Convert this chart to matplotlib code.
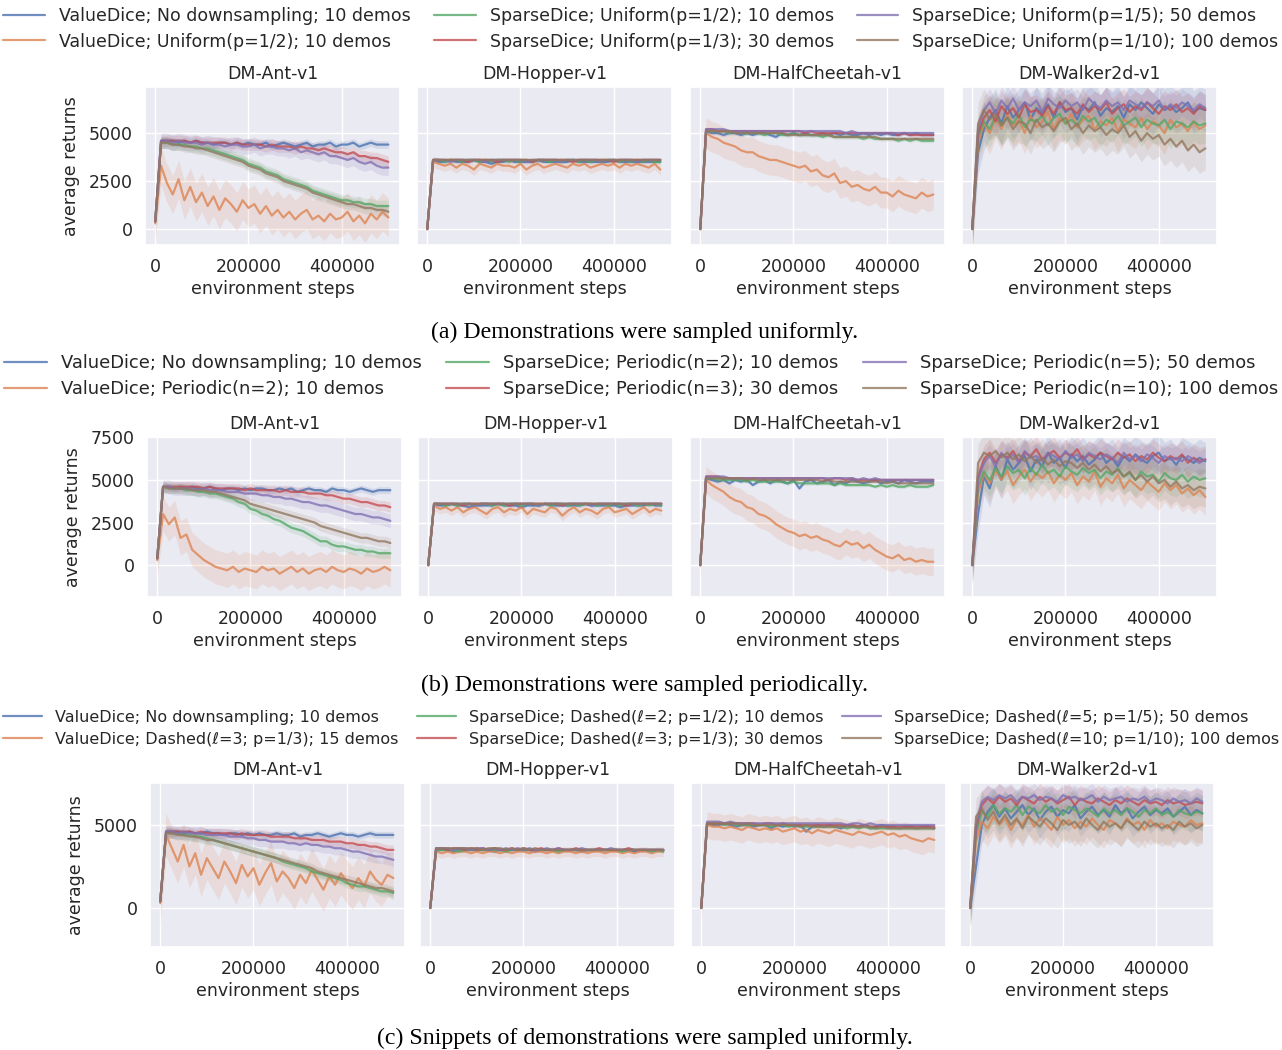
import matplotlib
matplotlib.use("Agg")
import matplotlib.pyplot as plt
import numpy as np
import seaborn as sns

# x grid of the logged evaluations (environment steps)
steps = np.arange(41) * 12500

# returns in units of 100, order: ValueDice full, ValueDice down, Sparse 2, 3, 5, 10
ant_a = [
    [4,46,46,46,45,46,45,46,45,45,44,45,45,44,45,44,45,44,44,45,43,44,45,44,43,44,45,43,44,44,45,43,44,44,45,43,44,45,44,44,44],
    [3,33,24,18,26,15,22,14,19,12,17,10,16,13,9,15,11,13,8,12,7,10,6,9,5,8,10,5,7,4,8,5,6,9,4,7,3,8,5,9,6],
    [4,45,45,44,44,44,43,43,42,42,41,40,39,38,37,36,34,33,32,30,29,28,26,25,24,23,22,20,19,18,17,16,15,15,14,14,13,13,12,12,12],
    [4,46,46,46,46,46,45,46,45,45,45,45,45,44,45,44,44,44,44,43,44,43,43,43,42,43,42,42,41,42,41,40,40,39,40,38,38,37,37,36,35],
    [4,46,46,45,46,45,45,45,44,45,44,44,43,44,44,43,43,44,42,43,43,42,42,41,42,40,41,40,39,40,38,38,37,36,37,35,34,35,33,32,32],
    [4,45,45,44,44,43,43,42,42,41,40,39,38,37,36,35,33,32,31,29,28,27,25,24,23,22,21,19,18,17,16,15,14,13,13,12,11,11,10,10,9],
]
hopper_a = [
    [0,36,35,35,36,35,35,35,36,35,35,34,35,35,36,35,35,35,35,36,35,35,35,35,35,36,35,35,35,35,35,35,36,35,35,35,35,35,35,35,35],
    [0,35,34,33,34,32,34,33,31,34,33,32,34,33,33,32,34,31,33,34,32,33,34,33,32,34,33,34,32,33,34,33,34,32,34,33,34,33,32,34,31],
    [0,36,36,35,36,36,35,36,36,35,36,35,36,36,35,36,35,36,35,36,36,35,36,35,36,36,35,36,35,36,35,36,36,35,36,35,36,35,36,35,35],
    [0,36,36,36,36,36,36,35,36,36,36,36,35,36,36,36,36,36,35,36,36,36,36,36,36,35,36,36,36,36,36,36,35,36,36,36,36,36,36,36,36],
    [0,36,36,36,35,36,36,36,36,36,35,36,36,36,36,36,36,35,36,36,36,36,36,35,36,36,36,36,36,36,35,36,36,36,36,36,35,36,36,36,36],
    [0,36,36,36,36,36,36,36,36,36,36,36,36,36,36,36,36,36,36,36,36,36,36,36,36,36,36,36,36,36,36,36,36,36,36,36,36,36,36,36,36],
]
cheetah_a = [
    [0,51,50,50,49,50,50,49,50,49,50,50,49,48,50,49,50,49,50,49,49,50,49,50,49,50,49,49,50,49,50,49,50,49,49,50,49,50,49,49,49],
    [0,50,48,47,45,44,43,41,40,40,38,37,36,36,35,34,33,32,33,30,31,28,27,29,24,25,22,23,21,20,22,19,19,17,20,18,17,16,19,17,18],
    [0,51,51,51,51,50,51,50,50,50,50,49,50,50,49,49,50,49,49,49,49,48,49,48,48,48,48,48,47,48,47,47,47,47,46,47,46,47,46,46,46],
    [0,52,52,51,51,51,51,51,51,51,51,51,51,51,51,51,51,51,50,51,50,50,50,50,50,50,50,50,50,50,50,50,50,50,49,50,49,49,49,49,49],
    [0,52,52,52,52,51,51,51,51,51,51,51,51,51,51,51,51,51,51,51,51,51,51,51,51,50,51,50,50,50,50,50,50,50,50,50,50,50,50,50,50],
    [0,51,51,51,51,51,50,50,50,50,50,50,50,50,50,49,49,49,49,49,49,49,49,48,48,48,48,48,48,48,48,47,47,47,47,47,47,47,47,47,47],
]
walker_a = [
    [0,40,52,58,62,55,64,58,62,66,57,63,60,65,58,66,61,63,57,64,62,66,59,63,61,64,58,65,62,66,63,60,65,62,64,61,63,66,61,63,62],
    [0,45,55,50,58,52,60,54,57,50,59,53,56,61,52,58,55,60,53,57,59,52,56,54,58,51,57,55,53,58,52,56,54,50,57,53,55,51,56,52,54],
    [0,48,56,52,59,54,58,55,60,53,57,56,59,54,58,60,55,57,54,59,56,58,53,57,55,59,54,56,58,53,57,55,54,57,52,56,55,53,56,54,55],
    [0,50,58,62,56,64,60,63,58,65,61,62,59,64,60,66,62,63,60,65,61,64,62,66,60,63,65,61,64,62,66,63,60,64,62,65,61,63,60,64,62],
    [0,52,62,66,60,67,63,68,62,66,64,67,61,68,65,63,67,64,66,62,68,65,63,67,64,66,62,67,65,63,66,64,67,62,65,63,66,64,62,65,63],
    [0,55,62,57,60,54,58,52,56,55,50,57,53,55,51,56,58,52,55,50,54,51,53,49,52,50,54,48,51,46,50,47,49,44,47,43,46,41,44,40,42],
]

ant_b = [
    [4,46,46,45,46,45,46,45,45,46,45,44,45,45,44,45,44,45,45,44,44,45,44,45,43,44,45,44,44,43,45,44,44,43,44,45,44,43,44,44,44],
    [3,30,24,28,16,18,9,6,3,1,-1,-2,-3,-1,-4,-2,-3,-4,-1,-3,-2,-5,-3,-1,-4,-2,-5,-3,-2,-4,-1,-3,-4,-2,-3,-5,-2,-4,-3,-1,-3],
    [4,46,45,45,45,44,44,43,43,42,42,41,40,39,37,36,33,32,30,29,27,26,24,22,21,20,18,16,14,14,12,11,11,10,9,9,8,8,7,7,7],
    [4,46,46,46,46,46,46,46,45,46,45,45,45,45,45,44,45,44,44,44,44,43,44,43,43,43,42,42,42,41,41,40,39,39,38,37,37,36,35,35,34],
    [4,46,46,45,45,45,45,44,45,44,44,44,43,43,43,42,42,42,41,41,40,40,39,39,38,37,37,36,35,35,34,33,32,31,30,30,29,28,28,27,26],
    [4,46,45,45,45,45,44,44,44,43,43,42,41,40,39,38,36,35,34,33,32,31,30,29,28,27,26,25,23,22,21,20,19,18,17,16,16,15,14,14,13],
]
hopper_b = [
    [0,36,35,35,36,35,35,34,35,35,35,35,36,35,35,35,34,35,35,35,36,35,35,35,35,35,35,36,35,35,35,35,35,34,35,35,35,35,36,35,35],
    [0,35,33,34,32,34,31,33,34,32,30,33,34,31,33,32,34,30,33,32,31,34,33,29,32,34,31,33,32,30,33,34,31,32,33,30,32,34,31,33,32],
    [0,36,36,35,36,35,36,36,35,36,36,35,36,35,36,36,35,36,36,35,36,35,36,36,35,36,35,36,36,35,36,35,36,35,36,36,35,36,35,36,35],
    [0,36,36,36,36,36,35,36,36,36,36,36,36,36,35,36,36,36,36,36,36,36,36,35,36,36,36,36,36,36,36,36,36,36,35,36,36,36,36,36,36],
    [0,36,36,36,36,36,36,36,35,36,36,36,36,36,36,36,36,36,36,35,36,36,36,36,36,36,36,36,35,36,36,36,36,36,36,36,36,36,36,36,36],
    [0,36,36,36,36,36,36,36,36,36,36,36,36,36,36,36,36,36,36,36,36,36,36,36,36,36,36,36,36,36,36,36,36,36,36,36,36,36,36,36,36],
]
cheetah_b = [
    [0,51,50,49,50,48,50,49,50,47,49,50,48,50,49,48,50,45,49,50,48,49,50,47,49,48,50,49,48,49,50,48,49,49,48,50,49,48,49,49,49],
    [0,50,47,45,43,40,38,37,34,33,30,29,27,24,22,20,19,17,18,16,17,15,14,12,11,14,12,13,10,12,9,7,5,4,6,3,4,2,3,2,2],
    [0,51,51,50,50,50,50,50,49,50,49,49,49,49,49,48,49,48,48,48,48,48,48,47,48,47,47,47,47,47,46,47,46,47,46,46,47,46,46,46,47],
    [0,52,52,52,51,51,51,51,51,51,51,51,51,51,51,51,51,51,51,51,51,51,50,51,51,50,51,50,50,50,50,50,50,50,50,50,50,50,50,50,50],
    [0,52,52,52,52,51,51,51,51,51,51,51,51,51,51,51,51,51,51,51,51,51,51,51,51,51,51,50,51,50,51,50,50,50,50,50,50,50,50,50,50],
    [0,51,51,51,51,51,51,51,50,51,50,50,50,50,50,50,50,50,50,50,50,49,50,49,49,49,49,49,49,49,49,49,48,49,48,48,48,48,48,48,48],
]
walker_b = [
    [0,30,52,45,58,50,62,56,60,64,55,62,58,66,60,63,57,65,61,64,59,62,66,60,63,58,64,61,65,62,60,64,66,61,63,59,64,62,60,63,61],
    [0,42,54,48,56,50,55,47,52,56,49,54,51,55,48,53,50,54,47,52,49,55,46,51,48,53,45,50,47,44,49,46,43,48,44,47,42,45,41,44,40],
    [0,46,55,50,57,52,58,54,56,51,57,53,59,54,56,52,58,55,53,57,54,56,51,55,53,57,52,54,50,55,52,53,49,54,51,50,53,49,52,50,51],
    [0,52,62,66,60,65,63,67,61,66,64,68,62,65,67,63,66,64,68,62,65,63,66,64,62,66,63,65,61,64,62,66,63,61,64,62,65,60,63,61,62],
    [0,50,60,64,58,66,62,65,60,67,63,64,61,66,64,62,67,63,65,61,66,64,62,65,63,60,66,62,64,61,65,63,60,64,62,63,61,64,62,60,62],
    [0,60,66,64,67,63,66,62,65,61,64,60,63,59,62,58,61,60,57,60,56,59,55,58,54,56,52,55,50,53,49,52,48,50,46,49,45,47,44,46,45],
]

ant_c = [
    [4,46,46,46,45,46,45,45,46,45,45,44,45,45,44,45,44,45,44,44,45,44,44,45,43,44,44,45,44,43,44,45,44,44,43,44,45,44,44,44,44],
    [3,44,36,28,38,25,33,20,30,24,18,28,22,15,26,19,24,14,21,27,16,22,18,12,20,15,23,17,11,19,14,21,16,12,18,13,22,17,14,20,18],
    [4,46,45,45,44,44,43,43,42,41,40,39,38,37,36,35,34,33,32,31,30,28,27,26,25,24,22,21,20,19,18,17,15,14,13,13,12,11,10,10,9],
    [4,46,46,46,46,46,45,46,45,45,45,45,45,44,45,44,44,44,44,43,43,43,43,42,42,42,41,41,41,40,40,40,39,39,38,38,37,37,36,35,35],
    [4,46,46,45,46,45,45,45,44,44,44,44,43,43,43,42,42,41,41,40,40,40,39,39,38,39,38,38,37,37,36,36,35,34,34,33,32,31,31,30,29],
    [4,45,45,44,44,43,43,42,41,41,40,39,38,37,36,35,34,33,32,31,30,29,28,27,26,25,24,22,21,20,19,18,17,16,15,14,13,12,12,11,10],
]
hopper_c = [
    [0,35,35,35,34,35,35,35,35,35,35,34,35,35,35,35,35,35,34,35,35,35,35,35,35,35,34,35,35,35,35,35,35,35,35,34,35,35,35,35,35],
    [0,34,33,34,33,34,34,33,34,33,34,34,33,34,33,34,34,33,34,34,33,34,33,34,34,33,34,33,34,34,33,34,34,33,34,33,34,34,33,34,34],
    [0,35,35,35,35,34,35,35,35,35,35,35,35,34,35,35,35,35,35,35,35,35,34,35,35,35,35,35,35,35,35,35,35,34,35,35,35,35,34,35,34],
    [0,36,36,35,36,36,35,36,35,36,35,36,35,35,36,35,36,35,35,36,35,35,36,35,35,36,35,35,35,36,35,35,35,35,36,35,35,35,35,35,35],
    [0,36,36,36,35,36,36,35,36,36,35,36,35,36,35,36,35,36,35,35,36,35,36,35,35,35,36,35,35,35,35,36,35,35,35,35,35,35,35,35,35],
    [0,36,36,36,36,36,36,36,36,35,36,36,36,35,36,35,36,35,36,35,35,35,35,35,35,35,35,35,35,35,35,35,35,35,35,35,35,35,35,35,35],
]
cheetah_c = [
    [0,51,50,50,51,50,49,50,50,49,50,50,48,50,49,50,49,50,46,49,50,49,50,49,48,50,49,49,50,48,49,50,49,49,48,49,49,48,49,49,48],
    [0,50,49,49,48,49,48,47,49,48,47,48,47,48,46,47,48,46,47,45,47,46,45,47,46,45,44,46,45,44,45,46,44,45,43,44,42,41,40,42,41],
    [0,51,51,51,50,51,50,50,50,50,50,50,49,50,50,49,50,49,49,49,49,49,49,49,49,48,49,48,49,48,48,48,48,48,48,48,48,48,48,48,48],
    [0,51,51,51,51,51,51,51,51,51,50,51,51,50,51,50,50,50,50,50,50,50,50,50,50,50,50,49,50,49,49,49,49,49,49,49,49,49,49,49,49],
    [0,52,52,52,51,52,51,51,51,51,51,51,51,51,51,51,51,51,51,51,51,51,51,51,51,50,51,51,50,51,50,50,50,50,50,50,50,50,50,50,50],
    [0,51,51,51,51,51,51,50,51,50,50,50,50,50,50,50,50,49,50,49,49,49,49,49,49,49,49,49,49,49,48,49,48,48,48,48,48,48,48,48,48],
]
walker_c = [
    [0,25,50,58,62,55,60,54,58,62,56,60,53,58,61,55,59,57,62,54,58,61,56,59,55,62,57,60,54,58,61,56,59,57,60,55,58,61,56,59,57],
    [0,40,52,48,55,50,54,47,53,50,56,49,54,51,47,55,50,53,48,52,49,54,50,47,53,51,48,54,50,52,47,53,49,51,48,52,50,49,53,50,51],
    [0,45,58,55,62,57,60,58,62,56,61,59,57,62,58,60,56,61,59,57,60,58,55,60,57,59,56,60,58,55,59,57,60,56,58,55,59,57,56,58,57],
    [0,48,62,66,63,67,64,66,62,67,65,63,67,64,66,63,65,67,62,66,64,63,66,64,62,65,63,66,64,62,65,63,64,62,65,63,64,62,63,64,63],
    [0,50,64,67,65,68,66,68,64,67,66,68,65,67,66,64,68,66,67,65,66,68,64,67,65,66,67,64,66,65,67,64,66,65,63,66,64,65,63,66,64],
    [0,55,60,53,58,51,56,50,54,48,55,52,49,54,51,47,53,50,52,48,54,50,47,52,49,51,48,53,50,47,52,49,51,48,50,47,52,49,51,48,50],
]

# spread of the shaded band (units of 100), same series order
band_ant = [2, 10, 3, 3, 4, 3]
band_hopper = [1, 3, 1, 1, 1, 1]
band_cheetah = [1, 8, 1, 1, 1, 1]
band_walker = [11, 11, 10, 8, 7, 11]
band_ant_c = [2, 13, 3, 3, 4, 3]

envs = ["DM-Ant-v1", "DM-Hopper-v1", "DM-HalfCheetah-v1", "DM-Walker2d-v1"]

labels_a = ["ValueDice; No downsampling; 10 demos", "ValueDice; Uniform(p=1/2); 10 demos",
            "SparseDice; Uniform(p=1/2); 10 demos", "SparseDice; Uniform(p=1/3); 30 demos",
            "SparseDice; Uniform(p=1/5); 50 demos", "SparseDice; Uniform(p=1/10); 100 demos"]
labels_b = ["ValueDice; No downsampling; 10 demos", "ValueDice; Periodic(n=2); 10 demos",
            "SparseDice; Periodic(n=2); 10 demos", "SparseDice; Periodic(n=3); 30 demos",
            "SparseDice; Periodic(n=5); 50 demos", "SparseDice; Periodic(n=10); 100 demos"]
labels_c = ["ValueDice; No downsampling; 10 demos", "ValueDice; Dashed(\u2113=3; p=1/3); 15 demos",
            "SparseDice; Dashed(\u2113=2; p=1/2); 10 demos", "SparseDice; Dashed(\u2113=3; p=1/3); 30 demos",
            "SparseDice; Dashed(\u2113=5; p=1/5); 50 demos", "SparseDice; Dashed(\u2113=10; p=1/10); 100 demos"]

captions = ["(a) Demonstrations were sampled uniformly.",
            "(b) Demonstrations were sampled periodically.",
            "(c) Snippets of demonstrations were sampled uniformly."]

sns.set_theme(style="darkgrid")
plt.rcParams['font.family'] = ['DejaVu Sans']
colors = sns.color_palette("deep", 6)

W, H = 1282, 1050
fig = plt.figure(figsize=(W / 100, H / 100), dpi=100)


def px_axes(l, t, r, b):
    return fig.add_axes([l / W, 1 - b / H, (r - l) / W, (b - t) / H])


rows = [
    dict(data=[ant_a, hopper_a, cheetah_a, walker_a], bands=[band_ant, band_hopper, band_cheetah, band_walker],
         top=87, bot=245, xs=[(145, 400), (417, 672), (690, 945), (962, 1217)],
         ylim=(-830, 7400), yticks=[0, 2500, 5000], labels=labels_a,
         leg_y=54, leg_fs=12.55, cap_y=332),
    dict(data=[ant_b, hopper_b, cheetah_b, walker_b], bands=[band_ant, band_hopper, band_cheetah, band_walker],
         top=437, bot=597, xs=[(147, 402), (418, 673), (690, 945), (962, 1217)],
         ylim=(-1870, 7520), yticks=[0, 2500, 5000, 7500], labels=labels_b,
         leg_y=402, leg_fs=12.9, cap_y=685),
    dict(data=[ant_c, hopper_c, cheetah_c, walker_c], bands=[band_ant_c, band_hopper, band_cheetah, band_walker],
         top=783, bot=947, xs=[(150, 405), (420, 675), (691, 946), (960, 1214)],
         ylim=(-2350, 7530), yticks=[0, 5000], labels=labels_c,
         leg_y=750, leg_fs=11.55, cap_y=1038),
]

for row in rows:
    handles = []
    for j, (l, r) in enumerate(row["xs"]):
        ax = px_axes(l, row["top"], r, row["bot"])
        for k in range(6):
            y = np.array(row["data"][j][k]) * 100.0
            s = row["bands"][j][k] * 100.0
            ax.fill_between(steps, y - s, y + s, color=colors[k], alpha=0.15, linewidth=0)
            ln, = ax.plot(steps, y, color=colors[k], alpha=0.8, linewidth=1.6)
            if j == 0:
                handles.append(ln)
        ax.set_xlim(-22000, 525000)
        ax.set_ylim(*row["ylim"])
        ax.set_xticks([0, 200000, 400000])
        ax.set_xticklabels(["0", "200000", "400000"])
        ax.set_yticks(row["yticks"])
        ax.tick_params(length=0, pad=9, labelsize=12.5, colors="#262626")
        ax.set_title(envs[j], fontsize=12.5, color="#262626", pad=6)
        ax.set_xlabel("environment steps", fontsize=12.5, color="#262626", labelpad=3)
        if j == 0:
            ax.set_ylabel("average returns", fontsize=12.5, color="#262626", labelpad=6)
        else:
            ax.set_yticklabels([])
    fig.legend(handles, row["labels"], loc="lower left", ncol=3, mode="expand",
               bbox_to_anchor=(0.0, 1 - row["leg_y"] / H, 1.0, 0.03), frameon=False,
               fontsize=row["leg_fs"], handlelength=2.4, handletextpad=0.8,
               labelspacing=0.45, borderaxespad=0.0, borderpad=0.2)

for i, c in enumerate(captions):
    fig.text(0.503, 1 - rows[i]["cap_y"] / H, c, ha="center", va="center",
             fontsize=17.2, family="Liberation Serif", color="black")

fig.savefig("out.png", dpi=100)
